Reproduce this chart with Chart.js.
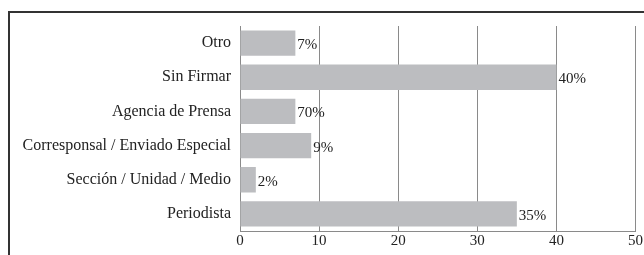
<!DOCTYPE html>
<html>
<head>
<meta charset="utf-8">
<script src="https://cdn.jsdelivr.net/npm/chart.js@4"></script>
<style>
  html, body { margin: 0; padding: 0; background: #fff; }
  #wrap { width: 644px; height: 255px; position: relative; }
</style>
</head>
<body>
<div id="wrap"><canvas id="myChart"></canvas></div>
<script>
const categories = [
  "Otro",
  "Sin Firmar",
  "Agencia de Prensa",
  "Corresponsal / Enviado Especial",
  "Sección / Unidad / Medio",
  "Periodista",
];
const values = [7, 40, 7, 9, 2, 35];
const valueLabels = ["7%", "40%", "70%", "9%", "2%", "35%"];
const xTicks = [0, 10, 20, 30, 40, 50];

const serif = "'Liberation Serif', 'DejaVu Serif', serif";

// frame round the figure (left + top)
const framePlugin = {
  id: "frame",
  beforeDraw(chart) {
    const ctx = chart.ctx;
    ctx.save();
    ctx.strokeStyle = "#333";
    ctx.lineWidth = 2;
    ctx.beginPath();
    ctx.moveTo(9, 255);
    ctx.lineTo(9, 12);
    ctx.lineTo(644, 12);
    ctx.stroke();
    ctx.restore();
  },
};

// value labels at the end of each bar
const labelPlugin = {
  id: "barLabels",
  afterDatasetsDraw(chart) {
    const ctx = chart.ctx;
    const meta = chart.getDatasetMeta(0);
    ctx.save();
    ctx.font = "15px " + serif;
    ctx.fillStyle = "#222";
    ctx.textBaseline = "middle";
    ctx.textAlign = "left";
    meta.data.forEach((bar, i) => {
      ctx.fillText(valueLabels[i], bar.x + 2, bar.y + 2);
    });
    ctx.restore();
  },
};

new Chart("myChart", {
  type: "bar",
  data: {
    labels: categories,
    datasets: [
      {
        data: values,
        backgroundColor: "#bcbdc0",
        borderWidth: 0,
        categoryPercentage: 0.74,
        barPercentage: 1,
      },
    ],
  },
  options: {
    indexAxis: "y",
    responsive: true,
    maintainAspectRatio: false,
    animation: false,
    layout: { padding: { top: 26, right: 8, bottom: 0, left: 0 } },
    plugins: {
      legend: { display: false },
      tooltip: { enabled: false },
    },
    scales: {
      x: {
        min: 0,
        max: 50,
        afterBuildTicks: (scale) => {
          scale.ticks = xTicks.map((v) => ({ value: v }));
        },
        afterFit: (scale) => {
          scale.height = 24;
        },
        grid: {
          color: "#8a8a8a",
          lineWidth: 1,
          drawTicks: false,
        },
        border: { display: true, color: "#8a8a8a", width: 1 },
        ticks: {
          padding: 1,
          color: "#222",
          font: { family: serif, size: 15 },
        },
      },
      y: {
        afterFit: (scale) => {
          scale.width = 240;
        },
        grid: { display: false },
        border: { display: true, color: "#8a8a8a", width: 1 },
        ticks: {
          padding: 1,
          color: "#222",
          font: { family: serif, size: 16 },
        },
      },
    },
  },
  plugins: [framePlugin, labelPlugin],
});
</script>
</body>
</html>
